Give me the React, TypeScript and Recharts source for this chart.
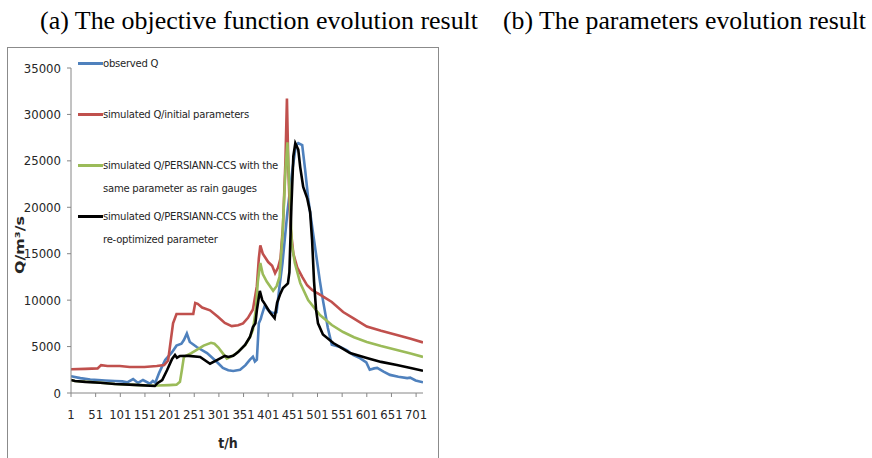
import { LineChart, Line, XAxis, YAxis } from 'recharts'

// ── Data (t in hours, Q in m³/s) ───────────────────────────────────────────
const X_TICKS = [1, 51, 101, 151, 201, 251, 301, 351, 401, 451, 501, 551, 601, 651, 701]
const Y_TICKS = [0, 5000, 10000, 15000, 20000, 25000, 30000, 35000]

const OBS_T = [1, 20, 40, 56, 70, 90, 105, 115, 127, 137, 147, 161, 167, 172, 180, 192, 206, 215, 225, 230, 236, 242, 256, 277, 297, 309, 320, 330, 344, 355, 364, 370, 374, 378, 382, 386, 388, 394, 401, 410, 418, 424, 430, 440, 450, 457, 462, 470, 476, 482, 492, 506, 512, 522, 530, 547, 561, 573, 587, 600, 607, 616, 622, 635, 648, 665, 683, 689, 700, 715]
const OBS_Q = [1800, 1600, 1450, 1400, 1350, 1300, 1250, 1150, 1500, 1080, 1400, 1000, 1300, 1100, 2200, 3550, 4400, 5100, 5300, 5700, 6400, 5500, 4950, 4300, 3340, 2700, 2450, 2370, 2500, 3000, 3600, 3900, 3400, 3600, 7500, 8000, 8400, 9400, 8900, 8600, 8700, 11500, 14000, 19500, 24000, 26600, 26900, 26700, 24000, 21000, 17200, 12000, 10000, 7000, 5200, 4950, 4600, 4100, 3750, 3300, 2500, 2650, 2700, 2300, 1950, 1750, 1600, 1650, 1350, 1150]

const INIT_T = [1, 30, 55, 62, 75, 100, 120, 150, 175, 190, 198, 203, 208, 215, 235, 249, 253, 258, 267, 283, 299, 313, 327, 340, 350, 360, 370, 378, 382, 385, 390, 401, 409, 415, 421, 426, 431, 436, 439, 442, 446, 452, 460, 470, 480, 490, 500, 515, 530, 553, 575, 601, 630, 662, 690, 715]
const INIT_Q = [2550, 2600, 2650, 3000, 2900, 2900, 2800, 2800, 2900, 3000, 3500, 5500, 7500, 8500, 8500, 8500, 9700, 9600, 9200, 8900, 8200, 7550, 7200, 7300, 7500, 8100, 9000, 11500, 14500, 15900, 15000, 14100, 13700, 12900, 13500, 14500, 18000, 25000, 31700, 24000, 18000, 15000, 13500, 12500, 11600, 11100, 10770, 10300, 9800, 8720, 8000, 7150, 6700, 6250, 5850, 5450]

const CCS_SAME_T = [1, 9, 50, 90, 130, 171, 177, 200, 215, 222, 226, 230, 245, 256, 270, 285, 292, 300, 307, 317, 325, 335, 345, 355, 364, 370, 376, 380, 385, 390, 398, 411, 418, 424, 430, 436, 440, 444, 449, 455, 466, 482, 506, 530, 553, 575, 601, 630, 662, 690, 715]
const CCS_SAME_Q = [1400, 1300, 1150, 970, 880, 780, 800, 850, 900, 1200, 2500, 3900, 4300, 4650, 5100, 5400, 5300, 4900, 4400, 3700, 3900, 4200, 4700, 5200, 6000, 6800, 9000, 12000, 14000, 12800, 12000, 11000, 11500, 12500, 17000, 24000, 27000, 22000, 16000, 14000, 11850, 10000, 8400, 7320, 6570, 6000, 5490, 5050, 4630, 4250, 3880]

const CCS_OPT_T = [1, 9, 30, 60, 90, 130, 171, 177, 186, 196, 206, 212, 216, 222, 240, 263, 283, 297, 313, 320, 330, 340, 354, 364, 370, 375, 378, 384, 389, 394, 404, 414, 419, 425, 431, 441, 444, 448, 452, 456, 462, 466, 472, 480, 486, 490, 494, 498, 502, 512, 533, 547, 567, 601, 630, 662, 690, 715]
const CCS_OPT_Q = [1400, 1300, 1200, 1100, 970, 880, 750, 1080, 1400, 2480, 3660, 4090, 3800, 3990, 4000, 3880, 3150, 3550, 3990, 3880, 4000, 4400, 5170, 6030, 7100, 7500, 8900, 11000, 10000, 9600, 8720, 8050, 9700, 10600, 11300, 11800, 13000, 20000, 25500, 26900, 26200, 24300, 22200, 21000, 19500, 16500, 12000, 9000, 7500, 6300, 5380, 4950, 4300, 3770, 3350, 3010, 2700, 2400]

const toPoints = (t: number[], q: number[]) => t.map((v, i) => ({ t: v, q: q[i] }))

const SERIES = [
  { key: 'obs', color: '#4F81BD', label: ['observed Q'], data: toPoints(OBS_T, OBS_Q) },
  { key: 'init', color: '#C0504D', label: ['simulated Q/initial parameters'], data: toPoints(INIT_T, INIT_Q) },
  { key: 'same', color: '#9BBB59', label: ['simulated Q/PERSIANN-CCS with the', 'same parameter as rain gauges'], data: toPoints(CCS_SAME_T, CCS_SAME_Q) },
  { key: 'opt', color: '#000000', label: ['simulated Q/PERSIANN-CCS with the', 're-optimized parameter'], data: toPoints(CCS_OPT_T, CCS_OPT_Q) },
]

const FONT = "'Liberation Sans Narrow', 'DejaVu Sans Condensed', sans-serif"
const AXIS_GREY = '#868686'
const TEXT = '#262626'

// ── Legend drawn inside the plot, Excel style ─────────────────────────────
function SeriesLegend() {
  return (
    <div style={{ position: 'absolute', left: 78, top: 52, fontFamily: FONT, fontSize: 11.2, letterSpacing: -0.25, color: TEXT }}>
      {SERIES.map((s) => (
        <div key={s.key} style={{ display: 'flex', height: 51 }}>
          <div style={{ width: 25, height: 3, background: s.color, marginTop: 10 }} />
          <div style={{ lineHeight: '23px' }}>
            {s.label.map((l) => <div key={l}>{l}</div>)}
          </div>
        </div>
      ))}
    </div>
  )
}

export default function App() {
  return (
    <div style={{ position: 'absolute', left: 0, top: 0, width: 872, height: 458, overflow: 'hidden', background: '#fff' }}>
      <div style={{ position: 'absolute', left: 7, top: 47, width: 432, height: 430, border: '1px solid #8b8b8b', boxSizing: 'border-box' }} />

      <div style={{ position: 'absolute', left: 0, top: 0 }}>
        <LineChart width={440} height={458} margin={{ top: 68, right: 17, bottom: 35, left: 0 }}>
          <XAxis
            type="number"
            dataKey="t"
            domain={[1, 715]}
            ticks={X_TICKS}
            interval={0}
            allowDataOverflow
            stroke={AXIS_GREY}
            tickSize={4}
            tickMargin={13}
            height={30}
            tick={{ fill: TEXT, fontSize: 13, fontFamily: FONT }}
          />
          <YAxis
            type="number"
            domain={[0, 35000]}
            ticks={Y_TICKS}
            interval={0}
            stroke={AXIS_GREY}
            tickSize={4}
            tickMargin={6}
            width={71}
            tick={{ fill: TEXT, fontSize: 13, fontFamily: FONT }}
          />
          {SERIES.map((s) => (
            <Line
              key={s.key}
              data={s.data}
              dataKey="q"
              type="linear"
              stroke={s.color}
              strokeWidth={2.6}
              dot={false}
              isAnimationActive={false}
            />
          ))}
        </LineChart>
      </div>

      <SeriesLegend />

      {/* titles and axis names */}
      <svg width={872} height={458} style={{ position: 'absolute', left: 0, top: 0, pointerEvents: 'none' }}>
        <text x={40} y={29} fontFamily="'Liberation Serif', serif" fontSize={25} textLength={438} lengthAdjust="spacingAndGlyphs" fill="#000">
          (a) The objective function evolution result
        </text>
        <text x={503} y={29} fontFamily="'Liberation Serif', serif" fontSize={25} textLength={363} lengthAdjust="spacingAndGlyphs" fill="#000">
          (b) The parameters evolution result
        </text>
        <text x={228} y={448} textAnchor="middle" fontFamily={FONT} fontWeight="bold" fontSize={14} fill={TEXT}>t/h</text>
        <text
          transform="translate(24, 245) rotate(-90)"
          textAnchor="middle"
          fontFamily="'DejaVu Sans', sans-serif"
          fontWeight="bold"
          fontSize={12}
          textLength={58}
          lengthAdjust="spacingAndGlyphs"
          fill={TEXT}
        >
          Q/m³/s
        </text>
      </svg>
    </div>
  )
}
